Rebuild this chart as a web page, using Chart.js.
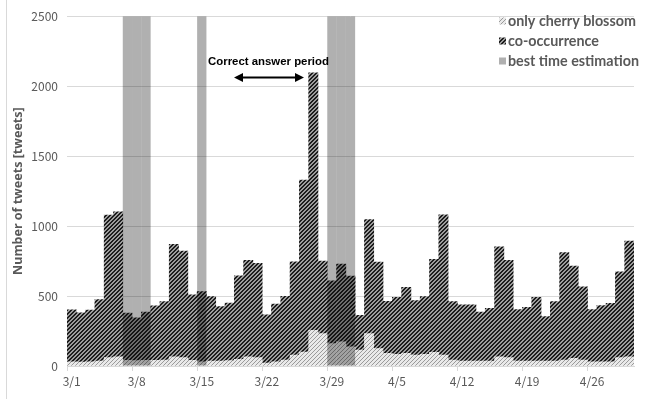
<!DOCTYPE html>
<html>
<head>
<meta charset="utf-8">
<script src="https://cdn.jsdelivr.net/npm/chart.js@4.4.1/dist/chart.umd.min.js"></script>
<style>
  html, body { margin: 0; padding: 0; background: #fff; }
  #wrap { width: 647px; height: 399px; }
</style>
</head>
<body>
<div id="wrap"><canvas id="tweetChart" width="647" height="399"></canvas></div>
<script>
// dates, 3/1 - 4/30
const days = [
  '3/1','3/2','3/3','3/4','3/5','3/6','3/7','3/8','3/9','3/10',
  '3/11','3/12','3/13','3/14','3/15','3/16','3/17','3/18','3/19','3/20',
  '3/21','3/22','3/23','3/24','3/25','3/26','3/27','3/28','3/29','3/30','3/31',
  '4/1','4/2','4/3','4/4','4/5','4/6','4/7','4/8','4/9','4/10',
  '4/11','4/12','4/13','4/14','4/15','4/16','4/17','4/18','4/19','4/20',
  '4/21','4/22','4/23','4/24','4/25','4/26','4/27','4/28','4/29','4/30'
];

const onlyCherry = [
  30, 28, 30, 35, 60, 65, 40, 38, 40, 40,
  42, 65, 60, 40, 30, 35, 35, 38, 47, 65,
  60, 20, 30, 42, 78, 100, 255, 231, 160, 172, 137,
  113, 231, 125, 90, 83, 90, 78, 83, 97, 78,
  42, 35, 35, 35, 35, 65, 60, 35, 35, 35,
  35, 35, 42, 54, 42, 30, 30, 30, 60, 65
];

const coOccurrence = [
  371, 352, 370, 439, 1019, 1037, 338, 307, 345, 390,
  418, 804, 762, 468, 501, 462, 390, 412, 597, 690,
  673, 346, 413, 456, 667, 1229, 1841, 519, 449, 556, 505,
  250, 815, 618, 372, 408, 472, 389, 413, 666, 1003,
  418, 402, 402, 350, 378, 787, 695, 369, 385, 456,
  319, 425, 768, 661, 524, 374, 402, 418, 613, 827
];

// full-height bands on the estimated best days
const bestTime = [
  null, null, null, null, null, null, 2500, 2500, 2500, null,
  null, null, null, null, 2500, null, null, null, null, null,
  null, null, null, null, null, null, null, null, 2500, 2500, 2500,
  null, null, null, null, null, null, null, null, null, null,
  null, null, null, null, null, null, null, null, null, null,
  null, null, null, null, null, null, null, null, null, null
];

const seriesNames = ['only cherry blossom', 'co-occurrence', 'best time estimation'];
const yTicks = [0, 500, 1000, 1500, 2000, 2500];

function makePattern(dark, light, isDark) {
  const c = document.createElement('canvas');
  c.width = 4; c.height = 4;
  const g = c.getContext('2d');
  g.fillStyle = light;
  g.fillRect(0, 0, 4, 4);
  g.fillStyle = dark;
  for (let x = 0; x < 4; x++) {
    for (let y = 0; y < 4; y++) {
      const k = (x + y) % 4;
      if (isDark ? k < 2 : k === 0) g.fillRect(x, y, 1, 1);
    }
  }
  return g.createPattern(c, 'repeat');
}

const ctx = document.getElementById('tweetChart').getContext('2d');
const darkPattern = makePattern('#1c1c1c', '#9c9c9c', true);
const lightPattern = makePattern('#9a9a9a', '#e9e9e9', false);
const bandColor = '#b0b0b0';

function fitFont(c, text, weight, family, targetW) {
  c.font = weight + ' 20px ' + family;
  const size = 20 * targetW / c.measureText(text).width;
  c.font = weight + ' ' + size.toFixed(2) + 'px ' + family;
}

// band is multiplied over the bars so they show through darker
const bandBlend = {
  id: 'bandBlend',
  beforeDatasetDraw(chart, args) {
    if (args.index === 0) {
      chart.ctx.save();
      chart.ctx.globalCompositeOperation = 'multiply';
    }
  },
  afterDatasetDraw(chart, args) {
    if (args.index === 0) chart.ctx.restore();
  }
};

const decorations = {
  id: 'decorations',
  afterDraw(chart) {
    const c = chart.ctx;
    c.save();
    // chart border on the left
    c.strokeStyle = '#d9d9d9';
    c.lineWidth = 1;
    c.beginPath();
    c.moveTo(6.5, 0);
    c.lineTo(6.5, 399);
    c.stroke();

    // legend
    const fills = [lightPattern, darkPattern, bandColor];
    c.textBaseline = 'middle';
    c.textAlign = 'left';
    fitFont(c, seriesNames[2], 'bold', 'Lato', 131);
    for (let i = 0; i < 3; i++) {
      const y = 21.5 + i * 20;
      c.fillStyle = fills[i];
      c.fillRect(499, y - 4, 7, 7);
      c.fillStyle = '#595959';
      c.fillText(seriesNames[i], 508, y);
    }

    // annotation
    c.fillStyle = '#000';
    c.textAlign = 'center';
    fitFont(c, 'Correct answer period', 'bold', 'Liberation Sans', 121);
    c.fillText('Correct answer period', 268.5, 62);
    c.strokeStyle = '#000';
    c.lineWidth = 2;
    c.beginPath();
    c.moveTo(242, 77.5);
    c.lineTo(296, 77.5);
    c.stroke();
    c.beginPath();
    c.moveTo(234, 77.5); c.lineTo(243, 73); c.lineTo(243, 82); c.closePath();
    c.moveTo(304, 77.5); c.lineTo(295, 73); c.lineTo(295, 82); c.closePath();
    c.fill();
    c.restore();
  }
};

const barStyle = { barPercentage: 1, categoryPercentage: 1, grouped: false };

new Chart(ctx, {
  type: 'bar',
  data: {
    labels: days,
    datasets: [
      Object.assign({ label: seriesNames[2], data: bestTime, backgroundColor: bandColor, xAxisID: 'x2', inflateAmount: 0 }, barStyle),
      Object.assign({ label: seriesNames[0], data: onlyCherry, backgroundColor: lightPattern }, barStyle),
      Object.assign({ label: seriesNames[1], data: coOccurrence, backgroundColor: darkPattern }, barStyle)
    ]
  },
  options: {
    responsive: false,
    animation: false,
    layout: { padding: { left: 6, right: 13, top: 13, bottom: 0 } },
    plugins: {
      legend: { display: false },
      tooltip: { enabled: false }
    },
    scales: {
      x: {
        stacked: true,
        offset: true,
        grid: {
          offset: true,
          drawOnChartArea: false,
          tickLength: 5,
          color: c => (c.index % 7 === 0 ? '#d9d9d9' : 'rgba(0,0,0,0)')
        },
        border: { color: '#d9d9d9' },
        ticks: {
          autoSkip: false,
          maxRotation: 0,
          padding: 3,
          color: '#595959',
          font: { family: 'Noto Sans CJK JP', size: 12 },
          callback: (v, i) => (i % 7 === 0 ? days[i] : '')
        },
        afterFit: s => { s.height = 33; }
      },
      x2: {
        display: false,
        offset: true,
        grid: { offset: true }
      },
      y: {
        stacked: true,
        min: 0,
        max: 2500,
        afterBuildTicks: s => { s.ticks = yTicks.map(v => ({ value: v })); },
        grid: { color: '#d9d9d9', drawTicks: false },
        border: { display: false },
        ticks: {
          padding: 9,
          color: '#595959',
          font: { family: 'Noto Sans CJK JP', size: 12 },
          callback: v => String(v)
        },
        title: {
          display: true,
          text: 'Number of tweets [tweets]',
          color: '#595959',
          font: { family: 'Noto Sans', size: 12.5, weight: 'bold' },
          padding: { top: 5, bottom: 0 }
        },
        afterFit: s => { s.width = 61; }
      }
    }
  },
  plugins: [bandBlend, decorations]
});
</script>
</body>
</html>
